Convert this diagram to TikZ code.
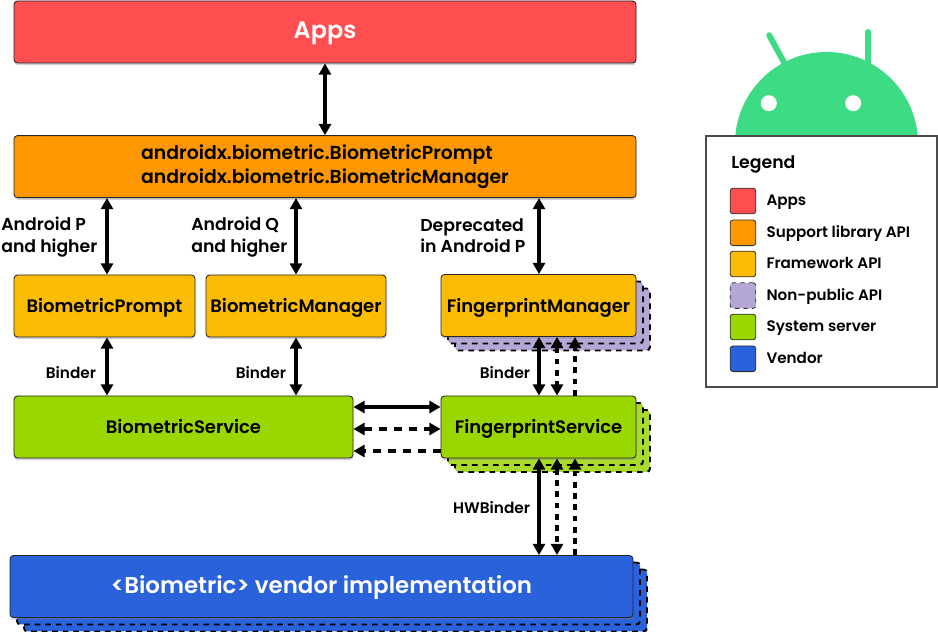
\documentclass[tikz,border=0pt]{standalone}
\usepackage{fontspec}
\setmainfont{Poppins}[BoldFont={Poppins SemiBold}]
\usetikzlibrary{arrows.meta, positioning, shadows}
\definecolor{appsred}{HTML}{FF4E50}
\definecolor{supportorange}{HTML}{FF9800}
\definecolor{frameworkyellow}{HTML}{FBBC04}
\definecolor{hiddenpurple}{HTML}{B4A7D6}
\definecolor{serverlime}{HTML}{9AD600}
\definecolor{serverlight}{HTML}{A8DB2A}
\definecolor{vendorblue}{HTML}{2962DB}
\definecolor{androidgreen}{HTML}{3DDC84}

\begin{document}
\begin{tikzpicture}[
        layerbox/.style={rectangle, draw=black!85, line width=0.6pt, rounded corners=2.5pt, minimum height=1.55cm, inner xsep=0pt, align=center, font=\fontsize{12.8}{16.5}\selectfont\bfseries, drop shadow={shadow xshift=0.3pt, shadow yshift=-1.6pt, opacity=0.35}},
        oneline/.style={text height=1.75ex, text depth=0pt},
        stackbox/.style={rectangle, draw=black, line width=1.4pt, dash pattern=on 4pt off 3.5pt, rounded corners=2.5pt, minimum height=1.55cm, inner xsep=0pt},
        tagtext/.style={align=left, font=\fontsize{12.3}{15.2}\selectfont\bfseries},
        bindertext/.style={font=\fontsize{10.9}{12}\selectfont\bfseries},
        swatch/.style={rectangle, draw=black!80, line width=0.6pt, rounded corners=2pt, minimum size=0.64cm, inner sep=0pt},
        swatchtext/.style={right=0.25cm of #1, font=\fontsize{10.8}{12}\selectfont\bfseries, text height=1.7ex, text depth=0.4ex, inner sep=0pt},
        solidlink/.style={{Triangle[length=0.28cm, width=0.3cm]}-{Triangle[length=0.28cm, width=0.3cm]}, line width=2.2pt},
        dashlink/.style={{Triangle[length=0.28cm, width=0.3cm]}-{Triangle[length=0.28cm, width=0.3cm]}, line width=2.3pt, dash pattern=on 4pt off 4pt},
        uplink/.style={-{Triangle[length=0.28cm, width=0.3cm]}, line width=2.3pt, dash pattern=on 4pt off 4pt},
        widedash/.style={dash pattern=on 5.6pt off 5pt}
    ]
        \useasboundingbox (0, 0) rectangle (23.45, 15.8);

        % android head sits behind the legend
        \draw[androidgreen, line width=4.2pt, line cap=round] (19.23, 14.92) -- (19.65, 14.15);
        \draw[androidgreen, line width=4.2pt, line cap=round] (21.7, 15) -- (21.7, 14.1);
        \fill[androidgreen] (20.6625, 12.2125) circle (2.2875);
        \fill[white] (19.22, 13.22) circle (0.2);
        \fill[white] (21.33, 13.22) circle (0.2);

        % stacked copies first
        \node[stackbox, fill=hiddenpurple, minimum width=4.875cm] (fmback) at (13.8125, 7.8125) {};
        \node[stackbox, fill=hiddenpurple, minimum width=4.875cm] (fmmid) at (13.6375, 7.9875) {};
        \node[stackbox, fill=serverlight, minimum width=4.875cm] (fsback) at (13.8125, 4.775) {};
        \node[stackbox, fill=serverlight, minimum width=4.875cm] (fsmid) at (13.6375, 4.95) {};
        \node[stackbox, fill=vendorblue, minimum width=15.575cm] (vendorback) at (8.3875, 0.7875) {};
        \node[stackbox, fill=vendorblue, minimum width=15.575cm] (vendormid) at (8.2125, 0.9625) {};

        \node[layerbox, oneline, fill=appsred, text=white, minimum width=15.55cm, font=\fontsize{17}{20}\selectfont\bfseries] (apps) at (8.125, 15) {Apps};
        \node[layerbox, fill=supportorange, minimum width=15.55cm, align=left] (support) at (8.125, 11.635) {\fontsize{13.4}{16.5}\selectfont androidx.biometric.BiometricPrompt\\\fontsize{13.4}{16.5}\selectfont androidx.biometric.BiometricManager};
        \node[layerbox, oneline, fill=frameworkyellow, minimum width=4.525cm] (prompt) at (2.6125, 8.15) {BiometricPrompt};
        \node[layerbox, oneline, fill=frameworkyellow, minimum width=4.5cm] (manager) at (7.4, 8.15) {BiometricManager};
        \node[layerbox, oneline, fill=frameworkyellow, minimum width=4.875cm] (fpmanager) at (13.4625, 8.1625) {FingerprintManager};
        \node[layerbox, oneline, fill=serverlime, minimum width=8.475cm] (bioservice) at (4.5875, 5.125) {BiometricService};
        \node[layerbox, oneline, fill=serverlime, minimum width=4.875cm] (fpservice) at (13.4625, 5.125) {FingerprintService};
        \node[layerbox, oneline, fill=vendorblue, text=white, minimum width=15.575cm, font=\fontsize{16.3}{20}\selectfont\bfseries] (vendor) at (8.0375, 1.1375) {<Biometric> vendor implementation};

        % columns and rows the connectors run along
        \coordinate (colprompt) at (2.675, 0);
        \coordinate (colsolid) at (13.475, 0);
        \coordinate (coldash) at (13.925, 0);
        \coordinate (colup) at (14.375, 0);
        \coordinate (rowsolid) at (0, 5.625);
        \coordinate (rowdash) at (0, 5.075);
        \coordinate (rowback) at (0, 4.525);

        \draw[solidlink] (apps) -- (support);
        \draw[solidlink] (support.south -| colprompt) -- (prompt.north -| colprompt);
        \draw[solidlink] (support.south -| manager) -- (manager);
        \draw[solidlink] (support.south -| colsolid) -- (fpmanager.north -| colsolid);
        \draw[solidlink] (prompt.south -| colprompt) -- (bioservice.north -| colprompt);
        \draw[solidlink] (manager) -- (bioservice.north -| manager);
        \draw[solidlink] (fpmanager.south -| colsolid) -- (fpservice.north -| colsolid);
        \draw[dashlink] (fpmanager.south -| coldash) -- (fpservice.north -| coldash);
        \draw[uplink] (fpservice.north -| colup) -- (fpmanager.south -| colup);
        \draw[solidlink] (fpservice.south -| colsolid) -- (vendor.north -| colsolid);
        \draw[dashlink] (fpservice.south -| coldash) -- (vendor.north -| coldash);
        \draw[uplink] (vendor.north -| colup) -- (fpservice.south -| colup);
        \draw[solidlink] (bioservice.east |- rowsolid) -- (fpservice.west |- rowsolid);
        \draw[dashlink, widedash] (bioservice.east |- rowdash) -- (fpservice.west |- rowdash);
        \draw[uplink, widedash] (fpservice.west |- rowback) -- (bioservice.east |- rowback);

        \node[tagtext, anchor=west, inner sep=0pt] (tagp) at (0.025, 9.87) {Android P\\and higher};
        \node[tagtext, anchor=west, inner sep=0pt] (tagq) at (4.775, 9.87) {Android Q\\and higher};
        \node[tagtext, anchor=west, inner sep=0pt] (tagdep) at (10.5, 9.9) {Deprecated\\in Android P};
        \node[bindertext] (bindera) at (1.775, 6.475) {Binder};
        \node[bindertext] (binderb) at (6.525, 6.475) {Binder};
        \node[bindertext] (binderc) at (12.625, 6.475) {Binder};
        \node[bindertext] (hwbinder) at (12.29, 3.1) {HWBinder};

        % legend
        \node[rectangle, draw=black!70, line width=0.8pt, fill=white, minimum width=5.775cm, minimum height=6.275cm] (legend) at (20.5375, 9.2625) {};
        \node[anchor=west, inner sep=0pt, font=\fontsize{12.3}{14}\selectfont\bfseries] (legendtitle) at (18.275, 11.68) {Legend};
        \node[swatch, fill=appsred] (keyapps) at (18.575, 10.775) {};
        \node[swatch, fill=supportorange] (keysupport) at (18.575, 9.98) {};
        \node[swatch, fill=frameworkyellow] (keyframework) at (18.575, 9.2) {};
        \node[swatch, fill=hiddenpurple, dashed] (keyhidden) at (18.575, 8.41) {};
        \node[swatch, fill=serverlime] (keyserver) at (18.575, 7.625) {};
        \node[swatch, fill=vendorblue] (keyvendor) at (18.575, 6.83) {};
        \node[swatchtext=keyapps] (txtapps) {Apps};
        \node[swatchtext=keysupport] (txtsupport) {Support library API};
        \node[swatchtext=keyframework] (txtframework) {Framework API};
        \node[swatchtext=keyhidden] (txthidden) {Non-public API};
        \node[swatchtext=keyserver] (txtserver) {System server};
        \node[swatchtext=keyvendor] (txtvendor) {Vendor};
    \end{tikzpicture}
\end{document}
